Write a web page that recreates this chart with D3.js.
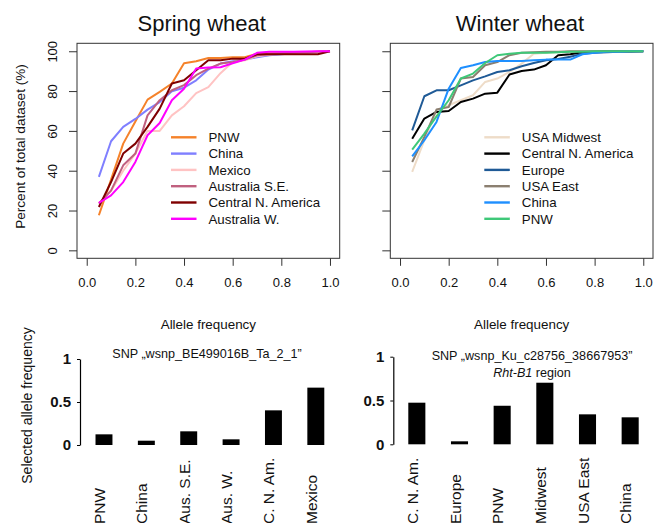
<!DOCTYPE html>
<html><head><meta charset="utf-8">
<script src="https://cdn.jsdelivr.net/npm/d3@7"></script>
<style>
body{margin:0;background:#fff;}
svg{display:block;}
text{font-family:"Liberation Sans",Arial,Helvetica,sans-serif;fill:#111;}
</style></head>
<body>
<svg id="c" width="665" height="523"></svg>
<script>
// ---------- data ----------
const freq = [0.05,0.10,0.15,0.20,0.25,0.30,0.35,0.40,0.45,0.50,0.55,0.60,0.65,0.70,0.75,0.80,0.85,0.90,0.95,1.00];

const springNames  = ["PNW","China","Mexico","Australia S.E.","Central N. America","Australia W."];
const springColors = ["#F5822A","#7F7FFF","#FFC3C3","#C0607F","#7F0000","#FF00FF"];
const springPNW   = [17.6,35.5,53.6,64.7,75.7,79.6,83.8,94.0,95.0,96.6,96.6,97.0,97.0,98.8,99.0,99.0,99.3,99.5,99.7,100];
const springChina = [36.9,54.8,62.0,66.0,70.7,74.5,79.9,81.7,85.4,90.8,93.8,95.0,95.8,97.0,98.0,98.5,99.0,99.3,99.6,100];
const springMex   = [23.5,30.0,40.0,48.6,60.0,60.0,67.8,72.4,79.0,82.0,89.0,94.6,95.5,97.5,98.3,98.8,99.0,99.3,99.6,100];
const springAusSE = [23.5,30.0,42.7,48.6,67.8,75.4,80.4,83.0,88.0,91.3,93.8,94.6,95.8,98.0,98.5,99.0,99.3,99.5,99.7,100];
const springCNA   = [21.8,34.3,48.6,53.6,62.0,71.2,83.8,85.4,90.5,95.5,95.5,96.3,96.3,98.5,98.5,98.5,98.5,98.5,98.5,100];
const springAusW  = [23.8,27.6,34.3,44.4,57.8,64.0,75.4,81.2,91.3,91.8,92.0,94.0,95.8,99.2,99.7,99.7,99.8,99.9,100,100];

const winterNames  = ["USA Midwest","Central N. America","Europe","USA East","China","PNW"];
const winterColors = ["#EEDCC8","#000000","#1F5A96","#8B7F70","#1E8FFF","#3EC878"];
const winterMid    = [39.4,55.3,70.4,72.9,75.4,77.9,84.6,86.3,89.6,93.8,98.8,99.2,99.5,99.7,99.8,100,100,100,100,100];
const winterCNA    = [56.0,66.2,69.5,70.0,74.5,76.2,78.7,79.2,88.3,90.1,90.8,93.0,98.0,98.5,99.5,99.7,100,100,100,100];
const winterEurope = [60.3,77.4,80.4,80.4,82.9,85.4,87.4,89.6,90.5,92.5,94.1,95.5,96.1,97.2,98.8,99.2,99.5,99.7,99.8,100];
const winterEast   = [44.4,57.0,70.7,72.0,86.3,87.1,93.0,94.6,98.0,99.2,99.5,99.7,99.8,100,100,100,100,100,100,100];
const winterChina  = [47.2,55.3,64.5,81.2,91.6,93.0,94.6,95.1,95.1,95.1,95.5,95.8,95.8,95.8,98.5,99.2,99.7,99.8,100,100];
const winterPNW    = [50.6,58.6,67.3,75.4,86.3,88.8,94.1,98.0,98.8,99.2,99.2,99.2,99.5,99.7,99.8,100,100,100,100,100];

const xTicks = [0,0.2,0.4,0.6,0.8,1.0];
const yTicks = [0,20,40,60,80,100];

const barSpringCats = ["PNW","China","Aus. S.E.","Aus. W.","C. N. Am.","Mexico"];
const barSpringVals = [0.124,0.050,0.159,0.066,0.403,0.667];
const barWinterCats = ["C. N. Am.","Europe","PNW","Midwest","USA East","China"];
const barWinterVals = [0.475,0.034,0.440,0.703,0.342,0.308];
const barTicks = [0,0.5,1];

// ---------- drawing ----------
const svg = d3.select("#c");

function linePanel(opt){
  const x = d3.scaleLinear().domain([-0.04,1.04]).range([opt.left,opt.right]);
  const y = d3.scaleLinear().domain([-4,104]).range([258.3,43.3]);
  const g = svg.append("g");
  g.append("rect").attr("x",opt.left).attr("y",y(104)).attr("width",opt.right-opt.left)
   .attr("height",y(-4)-y(104)).attr("fill","none").attr("stroke","#333").attr("stroke-width",1);
  const xa = g.append("g").attr("transform",`translate(0,${y(-4)})`)
    .call(d3.axisBottom(x).tickValues(xTicks).tickFormat(d3.format(".1f")).tickSizeOuter(0).tickSize(7.5).tickPadding(12));
  xa.select(".domain").remove();
  xa.selectAll("line").attr("stroke","#333");
  xa.selectAll("text").attr("font-size",13).attr("font-family","Liberation Sans, Arial").attr("fill","#111");
  const ya = g.append("g").attr("transform",`translate(${opt.left},0)`)
    .call(d3.axisLeft(y).tickValues(yTicks).tickSizeOuter(0).tickSize(8).tickFormat(opt.yLabels?d3.format("d"):""));
  ya.select(".domain").remove();
  ya.selectAll("line").attr("stroke","#333");
  if(opt.yLabels){
    ya.selectAll("text").attr("font-size",13).attr("font-family","Liberation Sans, Arial").attr("fill","#111")
      .attr("text-anchor","middle").attr("x",null).attr("dy",null)
      .attr("transform",`translate(-20.5,0) rotate(-90)`);
  }
  const line = d3.line().x((d,i)=>x(freq[i])).y(d=>y(d));
  opt.series.forEach((s,i)=>{
    g.append("path").datum(s).attr("d",line).attr("fill","none")
      .attr("stroke",opt.colors[i]).attr("stroke-width",2).attr("stroke-linejoin","round");
  });
  const lg = g.append("g");
  opt.names.forEach((n,i)=>{
    const yy = 137.3 + i*16.3;
    lg.append("line").attr("x1",opt.legX).attr("x2",opt.legX+25.5).attr("y1",yy).attr("y2",yy)
      .attr("stroke",opt.colors[i]).attr("stroke-width",2.4);
    lg.append("text").attr("x",opt.legX+37.5).attr("y",yy).attr("dy","0.36em")
      .attr("font-size",13.3).text(n);
  });
  g.append("text").attr("x",opt.titleX).attr("y",31).attr("text-anchor","middle")
    .attr("font-size",22).text(opt.title);
  g.append("text").attr("x",(opt.left+opt.right)/2).attr("y",328.5).attr("text-anchor","middle")
    .attr("font-size",13.4).text("Allele frequency");
}

linePanel({left:77,right:339.7,series:[springPNW,springChina,springMex,springAusSE,springCNA,springAusW],
  colors:springColors,names:springNames,legX:171,title:"Spring wheat",titleX:201.7,yLabels:true});
linePanel({left:390.3,right:653,series:[winterMid,winterCNA,winterEurope,winterEast,winterChina,winterPNW],
  colors:winterColors,names:winterNames,legX:484.3,title:"Winter wheat",titleX:520,yLabels:false});

svg.append("text").attr("transform","translate(25,146.5) rotate(-90)").attr("text-anchor","middle")
  .attr("font-size",13.6).text("Percent of total dataset (%)");

function barPanel(opt){
  const y = d3.scaleLinear().domain([0,1]).range([opt.y0,opt.y1]);
  const x = d3.scaleBand().domain(opt.cats).range([opt.x0,opt.x1]).paddingInner(0.6).paddingOuter(0.3);
  const g = svg.append("g");
  g.selectAll("rect.bar").data(opt.vals).enter().append("rect").attr("class","bar")
    .attr("x",(d,i)=>x(opt.cats[i])).attr("width",x.bandwidth())
    .attr("y",d=>y(d)).attr("height",d=>y(0)-y(d)).attr("fill","#000");
  const ya = g.append("g").attr("transform",`translate(${opt.axisX},0)`)
    .call(d3.axisLeft(y).tickValues(barTicks).tickSize(3).tickSizeOuter(0).tickPadding(6).tickFormat(d=>d===0.5?"0.5":d3.format("d")(d)));
  ya.select(".domain").attr("stroke","#000").attr("stroke-width",1.2);
  ya.selectAll("line").attr("stroke","#000");
  ya.selectAll("text").attr("font-size",15).attr("font-weight","bold").attr("font-family","Liberation Sans, Arial").attr("fill","#000");
  g.selectAll("text.cat").data(opt.cats).enter().append("text").attr("class","cat")
    .attr("transform",d=>`translate(${x(d)+x.bandwidth()/2+1},524) rotate(-90)`)
    .attr("text-anchor","start").attr("font-size",15.5).text(d=>d);
  opt.titles.forEach((t,i)=>{
    const tx = g.append("text").attr("x",opt.titleX).attr("y",opt.titleY+i*17).attr("text-anchor","middle")
      .attr("font-family","Lato, 'Open Sans', sans-serif").attr("font-size",12.6);
    t.forEach(p=>tx.append("tspan").attr("font-style",p[1]?"italic":"normal").text(p[0]));
  });
}

barPanel({cats:barSpringCats,vals:barSpringVals,x0:82.8,x1:337,y0:445,y1:359,axisX:80,
  titles:[[["SNP \u201Ewsnp_BE499016B_Ta_2_1\u201D",false]]],titleX:207,titleY:357.7});
barPanel({cats:barWinterCats,vals:barWinterVals,x0:395.5,x1:651.5,y0:444.3,y1:356.7,axisX:393.3,
  titles:[[["SNP \u201Ewsnp_Ku_c28756_38667953\u201D",false]],[["Rht-B1",true],[" region",false]]],titleX:532,titleY:360});

svg.append("text").attr("transform","translate(31.5,405.5) rotate(-90)").attr("text-anchor","middle")
  .attr("font-size",14).text("Selected allele frequency");
</script>
</body></html>
